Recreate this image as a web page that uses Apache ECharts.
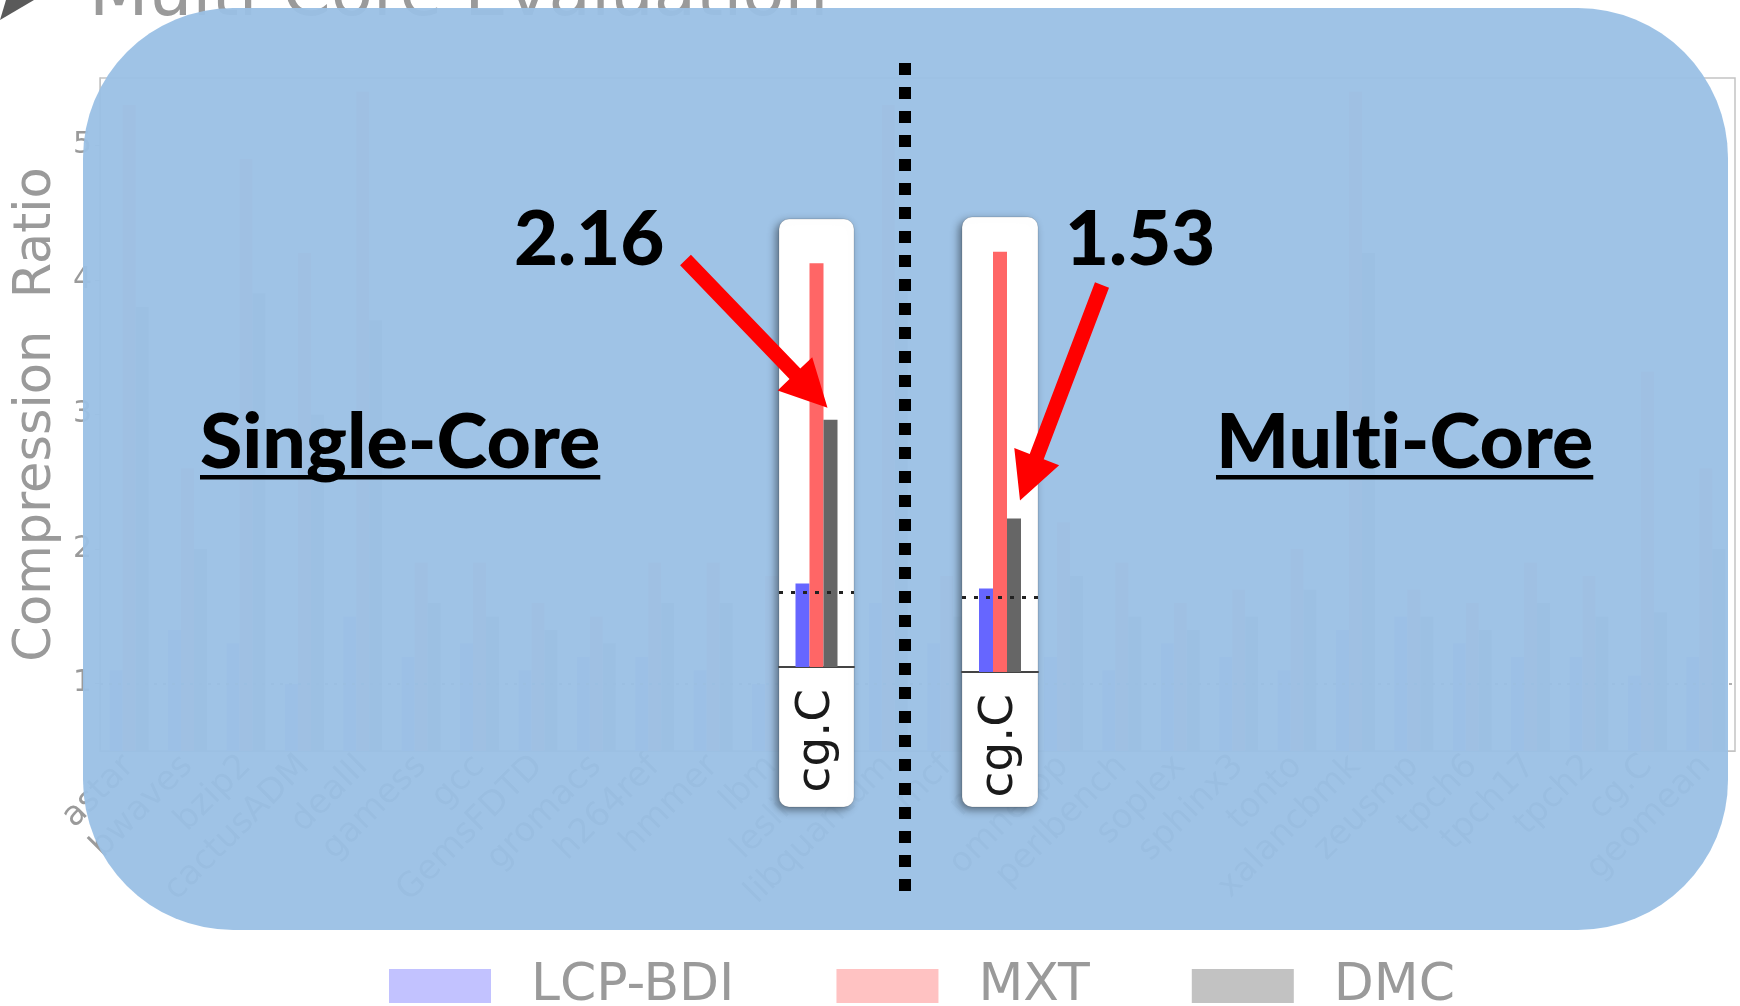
<!DOCTYPE html>
<html>
<head>
<meta charset="utf-8">
<script src="https://cdn.jsdelivr.net/npm/echarts@6/dist/echarts.min.js"></script>
<style>
  html, body { margin: 0; padding: 0; background: #ffffff; }
  #chart { width: 1740px; height: 1006px; }
</style>
</head>
<body>
<div id="chart"></div>
<script>
// ---- data -------------------------------------------------------------
const seriesNames = ['LCP-BDI', 'MXT', 'DMC'];
const categories = ['astar', 'bwaves', 'bzip2', 'cactusADM', 'dealII', 'gamess', 'gcc',
  'GemsFDTD', 'gromacs', 'h264ref', 'hmmer', 'lbm', 'leslie3d', 'libquantum', 'mcf',
  'milc', 'omnetpp', 'perlbench', 'soplex', 'sphinx3', 'tonto', 'xalancbmk', 'zeusmp',
  'tpch6', 'tpch17', 'tpch2', 'cg.C', 'geomean'];
const lcpBdi = [1.1, 1.4, 1.3, 1.0, 1.5, 1.2, 1.3, 1.1, 1.2, 1.2, 1.1, 1.0, 1.0, 1.6,
  1.3, 1.0, 1.2, 1.1, 1.3, 1.2, 1.1, 1.4, 1.5, 1.3, 1.2, 1.2, 1.06, 1.2];
const mxt = [5.3, 2.6, 4.9, 4.2, 5.4, 1.9, 1.9, 1.6, 1.5, 1.9, 1.9, 1.8, 1.6, 5.3,
  1.8, 1.5, 2.2, 1.9, 1.6, 1.7, 2.0, 5.4, 1.7, 1.6, 1.9, 1.8, 3.32, 2.6];
const dmc = [3.8, 2.0, 3.9, 3.0, 3.7, 1.6, 1.5, 1.4, 1.3, 1.6, 1.6, 1.6, 1.4, 4.0,
  1.5, 1.3, 1.8, 1.5, 1.4, 1.5, 1.7, 4.2, 1.5, 1.4, 1.6, 1.5, 1.53, 2.0];
const yTicks = [1, 2, 3, 4, 5];

// cg.C close-ups: [LCP-BDI, MXT, DMC]
const cardCategory = ['cg.C'];
const singleCoreCgC = [1.06, 3.21, 2.16];
const multiCoreCgC = [1.06, 3.32, 1.53];

const chartTitle = 'Multi-Core Evaluation';
const yAxisTitle = 'Compression  Ratio';
// zero-width non-joiner keeps "t" and "i" as separate glyphs
const panelTitles = ['Single-Core', 'Mult\u200Ci-Core'];

// ---- styling ----------------------------------------------------------
const fadedColors = ['#c2c2ff', '#ffc2c2', '#c2c2c2'];
const solidColors = ['#6666ff', '#ff6666', '#666666'];
const fadedText = '#9a9a9a';
const dejavu = '"DejaVu Sans", sans-serif';
const boldFont = 'Lato, "Open Sans", sans-serif';

const chart = echarts.init(document.getElementById('chart'), null, { renderer: 'canvas' });

// background (faded) comparison chart
const bgSeries = [lcpBdi, mxt, dmc].map((vals, i) => ({
  type: 'bar', name: seriesNames[i], xAxisIndex: 0, yAxisIndex: 0,
  data: vals, barWidth: 13, barGap: '0%', silent: true, z: 2,
  itemStyle: { color: fadedColors[i] },
  markLine: i === 0 ? {
    silent: true, symbol: 'none', z: 3, label: { show: false },
    lineStyle: { type: [3, 6], color: '#b0b0b0', width: 2 },
    data: [{ yAxis: 1 }]
  } : undefined
}));

// cg.C close-up cards
function cardSeries(vals, axisIdx, tag) {
  return vals.map((v, i) => ({
    type: 'bar', name: seriesNames[i] + ' ' + tag, xAxisIndex: axisIdx, yAxisIndex: axisIdx,
    data: [v], barWidth: 14, barGap: '0%', silent: true, z: 12,
    itemStyle: { color: solidColors[i] },
    markLine: i === 0 ? {
      silent: true, symbol: 'none', z: 13, label: { show: false },
      lineStyle: { type: [4, 8], color: '#222', width: 3 },
      data: [{ yAxis: 1 }]
    } : undefined
  }));
}

const cardX = (grid) => ({
  type: 'category', gridIndex: grid, data: cardCategory, z: 12,
  axisLine: { show: true, lineStyle: { color: '#444', width: 2 } },
  axisTick: { show: false },
  axisLabel: { rotate: 90, fontSize: 47, fontFamily: dejavu, color: '#1a1a1a', margin: 22 }
});
const cardY = (grid) => ({ type: 'value', gridIndex: grid, min: 0.5, max: 3.5, show: false });

const option = {
  animation: false,
  backgroundColor: '#ffffff',
  legend: {
    data: seriesNames, left: 384, top: 955, icon: 'rect',
    itemWidth: 102, itemHeight: 34, itemGap: 102, selectedMode: false,
    textStyle: { fontFamily: dejavu, fontSize: 52, color: fadedText, padding: [0, 0, 0, 35], lineHeight: 50 }
  },
  grid: [
    { left: 100, right: 5, top: 78, bottom: 255, show: true, borderColor: '#c4c4c4', borderWidth: 1.5 },
    { left: 779, width: 75, top: 220, height: 447 },
    { left: 962, width: 76, top: 225, height: 447 }
  ],
  xAxis: [
    {
      type: 'category', gridIndex: 0, data: categories,
      axisLine: { show: true, lineStyle: { color: '#c4c4c4' } },
      axisTick: { show: false },
      axisLabel: { rotate: 45, interval: 0, fontSize: 34, fontFamily: dejavu, color: fadedText, margin: 10 }
    },
    cardX(1), cardX(2)
  ],
  yAxis: [
    {
      type: 'value', gridIndex: 0, min: 0.5, max: 5.5,
      name: yAxisTitle, nameLocation: 'middle', nameGap: 38,
      nameTextStyle: { fontFamily: dejavu, fontSize: 51, color: fadedText },
      axisLine: { show: true, lineStyle: { color: '#c4c4c4' } },
      axisTick: { show: true, customValues: yTicks, length: 5, lineStyle: { color: '#c4c4c4' } },
      axisLabel: { customValues: yTicks, fontSize: 30, fontFamily: dejavu, color: fadedText, margin: 8 },
      splitLine: { show: false }
    },
    cardY(1), cardY(2)
  ],
  series: bgSeries
    .concat(cardSeries(singleCoreCgC, 1, '(single-core)'))
    .concat(cardSeries(multiCoreCgC, 2, '(multi-core)'))
};
chart.setOption(option);

// ---- annotations ------------------------------------------------------
function arrowPoints(tail, tip, shaft, headLen, headHalf) {
  const dx = tip[0] - tail[0], dy = tip[1] - tail[1];
  const len = Math.hypot(dx, dy);
  const ux = dx / len, uy = dy / len, nx = -uy, ny = ux;
  const bx = tip[0] - ux * headLen, by = tip[1] - uy * headLen;
  const s = shaft / 2;
  return [
    [tail[0] + nx * s, tail[1] + ny * s],
    [bx + nx * s, by + ny * s],
    [bx + nx * headHalf, by + ny * headHalf],
    tip,
    [bx - nx * headHalf, by - ny * headHalf],
    [bx - nx * s, by - ny * s],
    [tail[0] - nx * s, tail[1] - ny * s]
  ];
}

const measure = document.createElement('canvas').getContext('2d');
function textWidth(text, font) { measure.font = font; return measure.measureText(text).width; }

// top of the DMC bar in each card
const topSingle = chart.convertToPixel({ xAxisIndex: 1, yAxisIndex: 1 }, ['cg.C', singleCoreCgC[2]]);
const topMulti = chart.convertToPixel({ xAxisIndex: 2, yAxisIndex: 2 }, ['cg.C', multiCoreCgC[2]]);
const tipSingle = [topSingle[0] + 11, topSingle[1] - 12];
const tipMulti = [topMulti[0] + 20, topMulti[1] - 18];

const panelFont = '900 77px ' + boldFont;
const valueFont = '900 76px ' + boldFont;
const panelEls = [];
[[200, panelTitles[0]], [1216, panelTitles[1]]].forEach(([x, t]) => {
  panelEls.push({
    type: 'text', x: x, y: 443, z: 13, silent: true,
    style: { text: t, font: panelFont, fill: '#000', verticalAlign: 'middle' }
  });
  panelEls.push({
    type: 'rect', z: 13, silent: true,
    shape: { x: x, y: 475, width: textWidth(t, panelFont), height: 4.5 },
    style: { fill: '#000' }
  });
});

const card = (x, y, w, h) => ({
  type: 'rect', z: 11, silent: true,
  shape: { x: x, y: y, width: w, height: h, r: 10 },
  style: {
    fill: '#ffffff', stroke: 'rgba(0,0,0,0.12)', lineWidth: 1,
    shadowBlur: 8, shadowOffsetX: -3, shadowOffsetY: 3, shadowColor: 'rgba(0,0,0,0.45)'
  }
});

chart.setOption({
  graphic: [
    { type: 'polygon', z: 1, silent: true, shape: { points: [[0, 20], [34, 0], [6, 0]] }, style: { fill: '#5a5a5a' } },
    {
      type: 'text', x: 89, y: -3, z: 1, silent: true,
      style: { text: chartTitle, font: '69px ' + dejavu, fill: fadedText, verticalAlign: 'middle' }
    },
    // translucent highlight panel over the comparison chart
    {
      type: 'rect', z: 10, silent: true,
      shape: { x: 83, y: 8, width: 1645, height: 922, r: 150 },
      style: { fill: 'rgba(154,192,229,0.95)' }
    },
    card(779, 219, 75, 588),
    card(962, 217, 76, 590),
    {
      type: 'line', z: 13, silent: true,
      shape: { x1: 905, y1: 63, x2: 905, y2: 901 },
      style: { stroke: '#000', lineWidth: 12, lineDash: [12, 12] }
    },
    { type: 'polygon', z: 13, silent: true, shape: { points: arrowPoints([685.5, 260], tipSingle, 15, 47, 24) }, style: { fill: '#ff0000' } },
    { type: 'polygon', z: 13, silent: true, shape: { points: arrowPoints([1102, 285], tipMulti, 15, 47, 24) }, style: { fill: '#ff0000' } },
    {
      type: 'text', x: 514, y: 240, z: 13, silent: true,
      style: { text: singleCoreCgC[2].toFixed(2), font: valueFont, fill: '#000', verticalAlign: 'middle' }
    },
    {
      type: 'text', x: 1065, y: 240, z: 13, silent: true,
      style: { text: multiCoreCgC[2].toFixed(2), font: valueFont, fill: '#000', verticalAlign: 'middle' }
    }
  ].concat(panelEls)
});
</script>
</body>
</html>
